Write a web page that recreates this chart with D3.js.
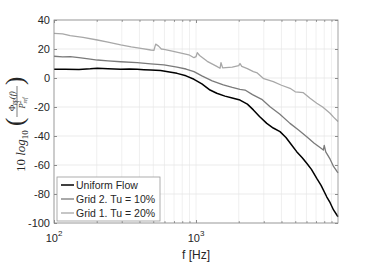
<!DOCTYPE html>
<html>
  <head>
    <style>
      body { margin: 0; background: #fff; }
      svg { font-family: "Liberation Sans", Arial, sans-serif; }
      .series { fill: none; stroke-linejoin: round; }
    </style>
    <script src="https://d3js.org/d3.v7.min.js"></script>
  </head>
  <body>
    <svg class="chart"></svg>

    <script>
      // Uniform Flow
      const freqUniform = [100, 120, 150, 180, 202, 240, 295, 340, 385, 430, 480, 563, 650, 735, 850, 968,
        1100, 1256, 1400, 1600, 1800, 2041, 2300, 2535, 2800, 3150, 3500, 3905, 4300, 4700, 5117,
        5600, 6023, 6500, 7085, 7600, 8326, 8800, 9300, 10000];
      const valUniform = [6.0, 6.1, 5.9, 6.3, 6.7, 6.4, 6.0, 6.2, 6.0, 5.7, 5.5, 5.1, 4.2, 3.2, 1.5, -0.9,
        -4.0, -8.3, -10.5, -12.5, -13.8, -15.2, -18.0, -22.0, -26.5, -31.3, -34.5, -37.0, -41.0, -46.0, -50.8,
        -55.0, -58.8, -63.0, -69.2, -74.0, -81.9, -86.0, -91.0, -95.7];

      // Grid 2. Tu = 10%
      const freqGrid2 = [100, 115, 130, 150, 175, 202, 240, 295, 385, 480, 595, 735, 850, 968, 1100, 1300,
        1557, 1800, 2041, 2214, 2500, 2905, 3322, 3900, 4592, 5300, 6023, 6800, 7600, 7888, 8000, 8200,
        8800, 9300, 10000];
      const valGrid2 = [15.0, 14.5, 14.8, 14.0, 13.2, 12.4, 11.8, 11.2, 10.6, 9.7, 9.0, 7.5, 6.2, 4.4, 1.5, -2.0,
        -4.8, -6.5, -7.8, -8.3, -11.5, -14.7, -19.8, -25.0, -31.3, -36.0, -40.5, -45.0, -48.5, -49.7, -46.5, -51.0,
        -56.0, -61.0, -65.5];

      // Grid 1. Tu = 20%
      const freqGrid1 = [100, 115, 130, 160, 202, 240, 295, 350, 420, 480, 505, 520, 545, 570, 595, 680, 800,
        890, 968, 1000, 1021, 1060, 1200, 1400, 1476, 1500, 1540, 1800, 2000, 2041, 2100, 2300, 2535, 2700,
        3000, 3503, 4000, 4592, 5000, 5702, 6356, 7085, 7800, 8787, 9300, 10000];
      const valGrid1 = [30.8, 30.5, 29.2, 28.0, 26.2, 24.8, 22.8, 21.5, 20.3, 19.3, 19.0, 23.4, 22.0, 20.0, 19.8, 18.5, 17.0,
        16.0, 14.0, 14.7, 17.5, 15.5, 11.5, 8.0, 6.7, 10.6, 7.0, 7.5, 8.5, 10.0, 8.0, 6.5, 4.4, 3.5,
        -0.5, -2.5, -5.0, -7.1, -9.5, -10.1, -14.0, -17.4, -20.0, -24.3, -27.0, -30.0];

      const seriesNames = ['Uniform Flow', 'Grid 2. Tu = 10%', 'Grid 1. Tu = 20%'];
      const seriesColors = ['#000000', '#7a7a7a', '#a8a8a8'];

      const xTickValues = [100, 1000];
      const xTickExponents = ['2', '3'];
      const xMinorTicks = [200, 300, 400, 500, 600, 700, 800, 900, 2000, 3000, 4000, 5000, 6000, 7000, 8000, 9000];
      const yTickValues = [-100, -80, -60, -40, -20, 0, 20, 40];

      const width = 374;
      const height = 262;
      const margin = { top: 20, right: 36, bottom: 39, left: 54 };
      const plotW = width - margin.left - margin.right;
      const plotH = height - margin.top - margin.bottom;

      const root = d3.select('svg')
        .attr('width', width)
        .attr('height', height);

      root.append('rect').attr('width', width).attr('height', height).attr('fill', '#fff');

      const svg = root.append('g')
        .attr('transform', `translate(${margin.left},${margin.top})`);

      const xScale = d3.scaleLog().domain([100, 10000]).range([0, plotW]);
      const yScale = d3.scaleLinear().domain([-100, 40]).range([plotH, 0]);

      // grid
      svg.append('g').selectAll('line')
        .data(xMinorTicks.concat(xTickValues))
        .join('line')
        .attr('x1', d => xScale(d)).attr('x2', d => xScale(d))
        .attr('y1', 0).attr('y2', plotH)
        .attr('stroke', '#ececec').attr('stroke-width', 0.8);
      svg.append('g').selectAll('line')
        .data(yTickValues)
        .join('line')
        .attr('x1', 0).attr('x2', plotW)
        .attr('y1', d => yScale(d)).attr('y2', d => yScale(d))
        .attr('stroke', '#e6e6e6').attr('stroke-width', 0.8);

      // lines
      const line = d3.line()
        .x(d => xScale(d[0]))
        .y(d => yScale(d[1]));

      const seriesData = [
        d3.zip(freqUniform, valUniform),
        d3.zip(freqGrid2, valGrid2),
        d3.zip(freqGrid1, valGrid1)
      ];

      svg.append('g').selectAll('path')
        .data(seriesData)
        .join('path')
        .attr('class', 'series')
        .attr('d', line)
        .attr('stroke', (d, i) => seriesColors[i])
        .attr('stroke-width', (d, i) => i === 0 ? 1.5 : 1.3);

      // axes (ticks inward, box on)
      const axisColor = '#8c8c8c';
      const textColor = '#262626';

      function styleAxis(g) {
        g.select('.domain').remove();
        g.selectAll('.tick line').attr('stroke', axisColor);
        g.selectAll('.tick text').attr('fill', textColor);
      }

      svg.append('g').attr('transform', `translate(0,${plotH})`)
        .call(d3.axisBottom(xScale).tickValues(xMinorTicks).tickSizeInner(-1.8).tickSizeOuter(0).tickFormat(''))
        .call(styleAxis);
      svg.append('g').attr('transform', `translate(0,${plotH})`)
        .call(d3.axisBottom(xScale).tickValues(xTickValues).tickSizeInner(-3).tickSizeOuter(0).tickFormat(''))
        .call(styleAxis);
      svg.append('g')
        .call(d3.axisTop(xScale).tickValues(xMinorTicks).tickSizeInner(-1.8).tickSizeOuter(0).tickFormat(''))
        .call(styleAxis);
      svg.append('g')
        .call(d3.axisTop(xScale).tickValues(xTickValues).tickSizeInner(-3).tickSizeOuter(0).tickFormat(''))
        .call(styleAxis);

      svg.append('g')
        .call(d3.axisLeft(yScale).tickValues(yTickValues).tickSizeInner(-3).tickSizeOuter(0).tickPadding(4)
          .tickFormat(d => String(d)))
        .call(styleAxis)
        .call(g => g.selectAll('.tick text').attr('font-size', 11).attr('font-family', '"Liberation Sans", Arial, sans-serif'));
      svg.append('g').attr('transform', `translate(${plotW},0)`)
        .call(d3.axisRight(yScale).tickValues(yTickValues).tickSizeInner(-3).tickSizeOuter(0).tickFormat(''))
        .call(styleAxis);

      svg.append('rect')
        .attr('width', plotW).attr('height', plotH)
        .attr('fill', 'none').attr('stroke', axisColor).attr('stroke-width', 0.8);

      // x tick labels 10^n
      const xl = svg.append('g').selectAll('text')
        .data(xTickValues)
        .join('text')
        .attr('x', d => xScale(d))
        .attr('y', plotH + 19)
        .attr('text-anchor', 'middle')
        .attr('font-size', 11)
        .attr('fill', textColor);
      xl.append('tspan').text('10');
      xl.append('tspan').attr('dy', -6).attr('font-size', 8).text((d, i) => xTickExponents[i]);

      svg.append('text')
        .attr('x', xScale(1000))
        .attr('y', plotH + 36)
        .attr('text-anchor', 'middle')
        .attr('font-size', 12)
        .attr('fill', textColor)
        .text('f [Hz]');

      // y label: 10 log10( Phi_pp(f) / P^2_ref )
      const yl = root.append('g')
        .attr('transform', 'translate(25,122) rotate(-90)')
        .attr('font-family', '"Liberation Serif", "DejaVu Serif", serif')
        .attr('fill', textColor);
      const main = yl.append('text').attr('x', -50).attr('y', 0).attr('font-size', 13);
      main.append('tspan').text('10 ');
      main.append('tspan').attr('font-style', 'italic').text('log');
      main.append('tspan').attr('font-size', 9).attr('dy', 3).text('10');

      yl.append('text').attr('x', -4).attr('y', -2).attr('font-size', 25).text('(');
      yl.append('text').attr('x', 37).attr('y', -2).attr('font-size', 25).text(')');

      const num = yl.append('text').attr('x', 21).attr('y', -10.5).attr('font-size', 8.5)
        .attr('text-anchor', 'middle').attr('font-style', 'italic');
      num.append('tspan').attr('font-style', 'normal').text('Φ');
      num.append('tspan').attr('font-size', 5.5).attr('dy', 1.5).text('pp');
      num.append('tspan').attr('dy', -1.5).text('(f)');
      yl.append('line').attr('x1', 5).attr('x2', 36).attr('y1', -8).attr('y2', -8)
        .attr('stroke', textColor).attr('stroke-width', 0.6);
      const den = yl.append('text').attr('x', 19).attr('y', -0.5).attr('font-size', 8.5)
        .attr('text-anchor', 'middle').attr('font-style', 'italic');
      den.append('tspan').text('P');
      den.append('tspan').attr('font-size', 5.5).attr('dy', -3.5).attr('font-style', 'normal').text('2');
      den.append('tspan').attr('font-size', 5.5).attr('dx', -2.8).attr('dy', 5.5).text('ref');

      // legend
      const legend = svg.append('g').attr('transform', `translate(3,${plotH - 46})`);
      legend.append('rect')
        .attr('width', 103).attr('height', 44)
        .attr('fill', '#fff').attr('stroke', '#9a9a9a').attr('stroke-width', 0.8);
      const rows = legend.selectAll('g.row')
        .data(seriesNames)
        .join('g')
        .attr('class', 'row')
        .attr('transform', (d, i) => `translate(0,${8 + i * 14})`);
      rows.append('line')
        .attr('x1', 4).attr('x2', 17)
        .attr('stroke', (d, i) => seriesColors[i])
        .attr('stroke-width', (d, i) => i === 0 ? 1.5 : 1.3);
      rows.append('text')
        .attr('x', 19).attr('dy', '0.35em')
        .attr('font-size', 10.5)
        .attr('fill', textColor)
        .text(d => d);
    </script>
  </body>
</html>
